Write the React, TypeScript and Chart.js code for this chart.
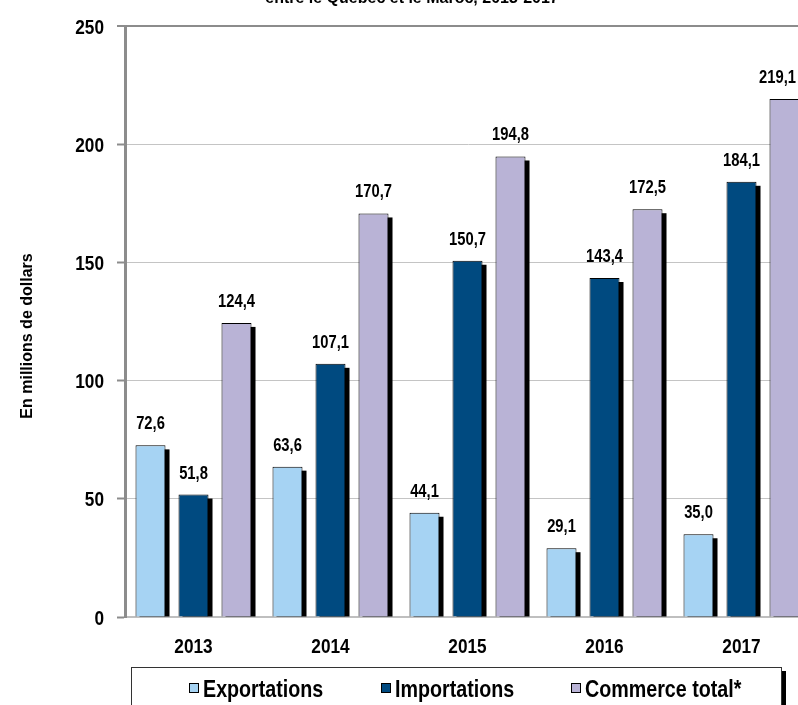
import React, { useEffect, useRef } from "react";
import { Chart, registerables } from "chart.js";

Chart.register(...registerables);

const categories = ["2013", "2014", "2015", "2016", "2017"];
const exportations = [72.6, 63.6, 44.1, 29.1, 35.0];
const importations = [51.8, 107.1, 150.7, 143.4, 184.1];
const commerceTotal = [124.4, 170.7, 194.8, 172.5, 219.1];
const yTicks = [0, 50, 100, 150, 200, 250];
const seriesNames = ["Exportations", "Importations", "Commerce total*"];
const yTitle = "En millions de dollars";
const titleText = "entre le Québec et le Maroc, 2013-2017";

const COLORS = ["#A6D3F3", "#004A80", "#B9B3D6"];
const ARIAL = "'Liberation Sans', Arial, sans-serif";
const NARROW_SCALE = 0.82;
const VISIBLE_W = 798;

const CW = 830;
const CH = 730;

const fmt = (v: number) => v.toFixed(1).replace(".", ",");

function narrowText(ctx: any, text: string, x: number, y: number, size: number, align: CanvasTextAlign) {
  ctx.save();
  ctx.font = `bold ${size}px ${ARIAL}`;
  ctx.textAlign = align;
  ctx.textBaseline = "alphabetic";
  ctx.fillStyle = "#000";
  ctx.translate(x, y);
  ctx.scale(NARROW_SCALE, 1);
  ctx.fillText(text, 0, 0);
  ctx.restore();
}

function narrowWidth(ctx: any, text: string, size: number) {
  ctx.save();
  ctx.font = `bold ${size}px ${ARIAL}`;
  const w = ctx.measureText(text).width * NARROW_SCALE;
  ctx.restore();
  return w;
}

const shadowPlugin = {
  id: "barShadow",
  beforeDatasetsDraw(chart: any) {
    const { ctx, chartArea } = chart;
    ctx.save();
    ctx.beginPath();
    ctx.rect(chartArea.left, chartArea.top, chartArea.right - chartArea.left, chartArea.bottom - chartArea.top);
    ctx.clip();
    ctx.fillStyle = "#000";
    chart.data.datasets.forEach((_: any, i: number) => {
      const meta = chart.getDatasetMeta(i);
      meta.data.forEach((el: any) => {
        const { x, y, base, width } = el.getProps(["x", "y", "base", "width"], true);
        ctx.fillRect(x - width / 2 + 4, y + 4, width, base - y - 4);
      });
    });
    ctx.restore();
  },
};

const labelPlugin = {
  id: "valueLabels",
  afterDatasetsDraw(chart: any) {
    const { ctx } = chart;
    chart.data.datasets.forEach((ds: any, i: number) => {
      const meta = chart.getDatasetMeta(i);
      meta.data.forEach((el: any, j: number) => {
        const { x, y } = el.getProps(["x", "y"], true);
        const t = fmt(ds.data[j]);
        const w = narrowWidth(ctx, t, 18);
        const cx = Math.min(x, VISIBLE_W - 2 - w / 2);
        narrowText(ctx, t, cx, y - 16, 18, "center");
      });
    });
  },
};

const axisLabelPlugin = {
  id: "axisLabels",
  afterDraw(chart: any) {
    const { ctx, scales } = chart;
    const xs = scales.x;
    categories.forEach((c, i) => {
      narrowText(ctx, c, xs.getPixelForTick(i), 653, 21, "center");
    });
    const ys = scales.y;
    yTicks.forEach((v) => {
      narrowText(ctx, String(v), 104, ys.getPixelForValue(v) + 7.5, 21, "right");
    });
  },
};

const decorPlugin = {
  id: "decor",
  afterDraw(chart: any) {
    const { ctx } = chart;
    ctx.save();
    ctx.font = `bold 16px ${ARIAL}`;
    ctx.fillStyle = "#000";
    ctx.textAlign = "center";
    ctx.textBaseline = "alphabetic";
    ctx.fillText(titleText, 412, 3);
    ctx.save();
    ctx.translate(28, 336);
    ctx.rotate(-Math.PI / 2);
    ctx.textBaseline = "middle";
    ctx.fillText(yTitle, 0, 0);
    ctx.restore();
    const fl = 131, fr = 781, ft = 667, fb = 760;
    ctx.fillStyle = "#000";
    ctx.fillRect(fr + 1, ft + 4, 4, fb - ft);
    ctx.fillStyle = "#fff";
    ctx.fillRect(fl, ft, fr - fl, fb - ft);
    ctx.strokeStyle = "#333";
    ctx.lineWidth = 1;
    ctx.strokeRect(fl + 0.5, ft + 0.5, fr - fl, fb - ft);
    const starts = [189, 381, 571];
    chart.data.datasets.forEach((ds: any, i: number) => {
      const x = starts[i];
      const yc = 688;
      ctx.fillStyle = ds.backgroundColor;
      ctx.fillRect(x, yc - 5, 10, 10);
      ctx.strokeStyle = "#000";
      ctx.strokeRect(x + 0.5, yc - 4.5, 9, 9);
      narrowText(ctx, ds.label, x + 14, 697, 24, "left");
    });
    ctx.restore();
  },
};

export default function App() {
  const ref = useRef<HTMLCanvasElement>(null);
  useEffect(() => {
    if (!ref.current) return;
    const chart = new Chart(ref.current, {
      type: "bar",
      data: {
        labels: categories,
        datasets: [exportations, importations, commerceTotal].map((d, i) => ({
          label: seriesNames[i],
          data: d,
          backgroundColor: COLORS[i],
          borderColor: "#000",
          borderWidth: 1,
          categoryPercentage: 0.9416,
          barPercentage: 0.698,
        })),
      },
      options: {
        responsive: false,
        animation: false,
        devicePixelRatio: 1,
        layout: { padding: { top: 26, right: CW - 810, bottom: CH - 617 - 40, left: 0 } },
        plugins: { legend: { display: false }, tooltip: { enabled: false } },
        scales: {
          x: {
            afterFit: (s: any) => { s.height = 40; },
            grid: { display: false, drawTicks: false },
            border: { display: true, color: "#bfbfbf", width: 2 },
            ticks: { display: false },
          },
          y: {
            min: 0,
            max: 250,
            afterFit: (s: any) => { s.width = 125; },
            afterBuildTicks: (s: any) => { s.ticks = yTicks.map((v) => ({ value: v })); },
            grid: {
              color: (c: any) => (c.tick && c.tick.value === 250 ? "#8c8c8c" : "#c4c4c4"),
              lineWidth: (c: any) => (c.tick && c.tick.value === 250 ? 2 : 1),
              tickColor: "#8c8c8c",
              tickWidth: 2,
              tickLength: 8,
            },
            border: { display: true, color: "#8c8c8c", width: 3 },
            ticks: { display: false },
          },
        },
      },
      plugins: [shadowPlugin, labelPlugin, axisLabelPlugin, decorPlugin],
    });
    return () => chart.destroy();
  }, []);
  return (
    <div style={{ position: "fixed", left: 0, top: 0, width: 798, height: 705, overflow: "hidden", background: "#fff" }}>
      <canvas ref={ref} width={CW} height={CH} style={{ position: "absolute", left: 0, top: 0, width: CW, height: CH }} />
    </div>
  );
}
